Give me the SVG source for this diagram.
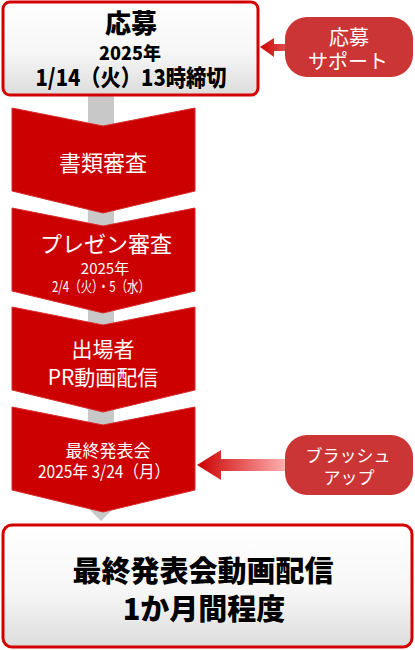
<svg xmlns="http://www.w3.org/2000/svg" width="415" height="650" viewBox="0 0 415 650">
<defs>
<linearGradient id="boxg" x1="0" y1="0" x2="0" y2="1">
<stop offset="0" stop-color="#ffffff"/><stop offset="0.55" stop-color="#f6f6f6"/><stop offset="1" stop-color="#dcdcdc"/>
</linearGradient>
<linearGradient id="arrg" x1="0" y1="0" x2="1" y2="0">
<stop offset="0" stop-color="#cc0000"/><stop offset="1" stop-color="#ffb0b0"/>
</linearGradient>
<linearGradient id="arrg2" x1="0" y1="0" x2="1" y2="0">
<stop offset="0" stop-color="#cc0000"/><stop offset="1" stop-color="#e05050"/>
</linearGradient>
<style>
.box{fill:url(#boxg);stroke:#d40000;stroke-width:3}
.chev{fill:#cc0000;stroke:#d82a2a;stroke-width:1}
.pill{fill:#cc3535}
.t{font-family:"Noto Sans CJK JP","Noto Sans",sans-serif;text-anchor:middle}
.b{font-weight:900;fill:#000;stroke:#fff;stroke-width:0.6;paint-order:stroke}
.w{fill:#fff}
</style>
</defs>
<g id="connectors">
<polygon points="88,95 114,95 114,508 101,521 88,508" fill="#c8c8c8"/>
<polygon points="260,47 274,38 274,44 286,44 286,51 274,51 274,57" fill="url(#arrg2)"/>
<polygon points="197,465 221,450 221,459 286,459 286,471 221,471 221,480" fill="url(#arrg)"/>
</g>
<g id="n-apply">
<rect class="box" x="3" y="2" width="255" height="93" rx="7"/>
<text class="t b" x="131" y="33" font-size="26">応募</text>
<text class="t b" x="130" y="60" font-size="18">2025年</text>
<text class="t b" x="131" y="86" font-size="23" textLength="191" lengthAdjust="spacingAndGlyphs">1/14（火）13時締切</text>
</g>
<g id="n-support">
<rect class="pill" x="285" y="17" width="128" height="60" rx="22"/>
<text class="t w" x="349" y="45" font-size="20">応募</text>
<text class="t w" x="348" y="69" font-size="20">サポート</text>
</g>
<g id="n-doc">
<polygon class="chev" points="12,108 103,126 195,108 195,191 103,213 12,191"/>
<text class="t w" x="103" y="171" font-size="22">書類審査</text>
</g>
<g id="n-pres">
<polygon class="chev" points="12,208 103,226 195,208 195,291 103,313 12,291"/>
<text class="t w" x="106" y="252" font-size="22">プレゼン審査</text>
<text class="t w" x="105" y="274" font-size="15">2025年</text>
<text class="t w" x="101" y="292" font-size="15" textLength="98" lengthAdjust="spacingAndGlyphs">2/4（火）・5（水）</text>
</g>
<g id="n-pr">
<polygon class="chev" points="12,307 103,325 195,307 195,390 103,412 12,390"/>
<text class="t w" x="103" y="357" font-size="21">出場者</text>
<text class="t w" x="103" y="385" font-size="21">PR動画配信</text>
</g>
<g id="n-final">
<polygon class="chev" points="12,407 103,425 195,407 195,490 103,512 12,490"/>
<text class="t w" x="108" y="457" font-size="17">最終発表会</text>
<text class="t w" x="104" y="478" font-size="17" textLength="132" lengthAdjust="spacingAndGlyphs">2025年 3/24（月）</text>
</g>
<g id="n-brush">
<rect class="pill" x="285" y="435" width="128" height="60" rx="22"/>
<text class="t w" x="348" y="462" font-size="17">ブラッシュ</text>
<text class="t w" x="349" y="484" font-size="17">アップ</text>
</g>
<g id="n-stream">
<rect class="box" x="3" y="525" width="409" height="122" rx="9"/>
<text class="t b" x="203" y="582" font-size="29">最終発表会動画配信</text>
<text class="t b" x="204" y="620" font-size="29">1か月間程度</text>
</g>
</svg>
